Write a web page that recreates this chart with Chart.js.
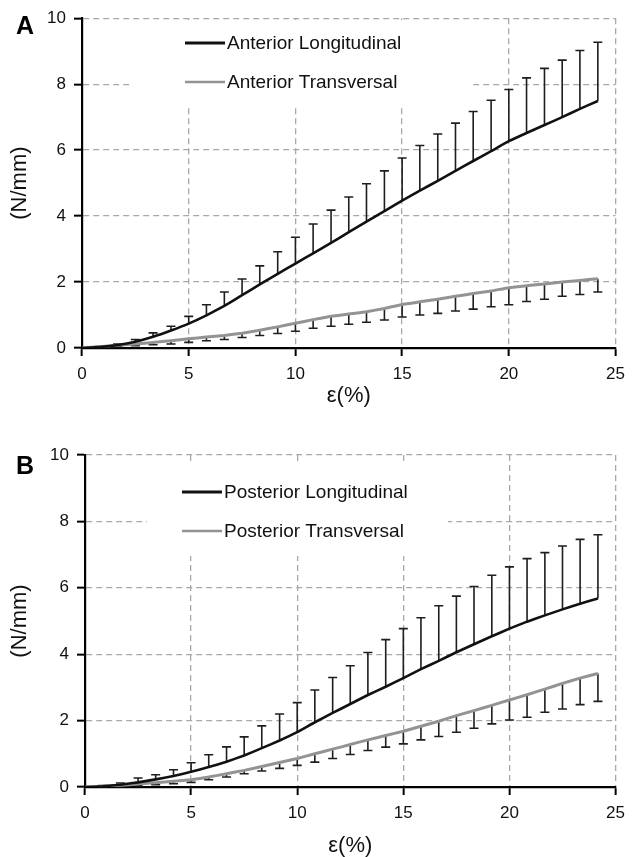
<!DOCTYPE html>
<html lang="en">
<head>
<meta charset="utf-8">
<title>Stiffness vs strain</title>
<style>
  html, body { margin: 0; padding: 0; background: #fff; }
  .panel { position: absolute; left: 0; }
  #panelA { top: 0; }
  #panelB { top: 428px; }
</style>
</head>
<body>
<div class="panel" id="panelA"><canvas id="chartA" width="633" height="428"></canvas></div>
<div class="panel" id="panelB"><canvas id="chartB" width="633" height="429"></canvas></div>

<script src="https://cdn.jsdelivr.net/npm/chart.js@4.4.0/dist/chart.umd.min.js"></script>
<script>
// strain steps (%)
var strain = [0, 0.83, 1.67, 2.5, 3.33, 4.17, 5, 5.83, 6.67, 7.5, 8.33, 9.17, 10, 10.83, 11.67,
              12.5, 13.33, 14.17, 15, 15.83, 16.67, 17.5, 18.33, 19.17, 20, 20.83, 21.67, 22.5, 23.33, 24.17];

var strainTicks = [0, 5, 10, 15, 20, 25];
var forceTicks = [0, 2, 4, 6, 8, 10];

// A - anterior (N/mm)
var antLong      = [0, 0.03, 0.09, 0.19, 0.34, 0.53, 0.74, 0.99, 1.28, 1.6, 1.93, 2.25, 2.56, 2.87, 3.19,
                    3.51, 3.83, 4.15, 4.47, 4.77, 5.07, 5.37, 5.67, 5.97, 6.27, 6.52, 6.76, 7.0, 7.25, 7.49];
var antLongUpper = [0, 0.05, 0.12, 0.26, 0.46, 0.66, 0.96, 1.31, 1.7, 2.09, 2.49, 2.92, 3.36, 3.76, 4.18,
                    4.58, 4.98, 5.37, 5.76, 6.14, 6.49, 6.82, 7.17, 7.51, 7.84, 8.19, 8.48, 8.73, 9.02, 9.27];
var antTrans      = [0, 0.04, 0.08, 0.12, 0.17, 0.22, 0.28, 0.33, 0.38, 0.45, 0.54, 0.64, 0.75, 0.86, 0.96,
                     1.03, 1.1, 1.2, 1.32, 1.4, 1.48, 1.57, 1.65, 1.73, 1.83, 1.89, 1.94, 2.0, 2.05, 2.1];
var antTransLower = [0, 0.02, 0.04, 0.07, 0.1, 0.12, 0.17, 0.22, 0.26, 0.32, 0.38, 0.44, 0.51, 0.6, 0.66,
                     0.72, 0.78, 0.85, 0.94, 1.0, 1.05, 1.12, 1.18, 1.25, 1.31, 1.41, 1.48, 1.57, 1.62, 1.7];

// B - posterior (N/mm)
var postLong      = [0, 0.02, 0.07, 0.14, 0.23, 0.33, 0.46, 0.6, 0.76, 0.95, 1.17, 1.4, 1.65, 1.95, 2.23,
                     2.5, 2.77, 3.02, 3.28, 3.55, 3.8, 4.06, 4.3, 4.54, 4.77, 4.98, 5.17, 5.35, 5.52, 5.68];
var postLongUpper = [0, 0.04, 0.12, 0.27, 0.37, 0.52, 0.73, 0.97, 1.21, 1.51, 1.84, 2.2, 2.54, 2.92, 3.3,
                     3.65, 4.05, 4.44, 4.77, 5.1, 5.46, 5.75, 6.04, 6.38, 6.63, 6.88, 7.06, 7.26, 7.46, 7.6];
var postTrans      = [0, 0.02, 0.05, 0.09, 0.13, 0.17, 0.22, 0.3, 0.4, 0.5, 0.62, 0.74, 0.86, 1.0, 1.14,
                      1.28, 1.42, 1.55, 1.68, 1.83, 1.98, 2.15, 2.3, 2.46, 2.62, 2.78, 2.95, 3.12, 3.28, 3.42];
var postTransLower = [0, 0.01, 0.02, 0.04, 0.07, 0.1, 0.14, 0.22, 0.3, 0.4, 0.48, 0.56, 0.65, 0.75, 0.86,
                      0.98, 1.1, 1.2, 1.3, 1.42, 1.52, 1.65, 1.77, 1.9, 2.02, 2.1, 2.25, 2.35, 2.48, 2.58];

var FONT = '"Liberation Sans", Arial, sans-serif';
Chart.defaults.font.family = FONT;
Chart.defaults.color = '#111';

function points(ys) {
  return strain.map(function (x, i) { return { x: x, y: ys[i] }; });
}

// white box + legend rows drawn inside the plot
var insideLegend = {
  id: 'insideLegend',
  beforeDatasetsDraw: function (chart, args, opts) {
    var ctx = chart.ctx, b = opts.box;
    ctx.save();
    ctx.fillStyle = '#fff';
    ctx.fillRect(b[0], b[1], b[2] - b[0], b[3] - b[1]);
    ctx.font = '19px ' + FONT;
    ctx.textBaseline = 'middle';
    chart.data.datasets.forEach(function (ds, i) {
      var y = opts.rowY[i];
      ctx.strokeStyle = ds.borderColor;
      ctx.lineWidth = i === 0 ? 3 : 2.5;
      ctx.beginPath();
      ctx.moveTo(opts.lineX[0], y);
      ctx.lineTo(opts.lineX[1], y);
      ctx.stroke();
      ctx.fillStyle = '#111';
      ctx.fillText(ds.label, opts.lineX[1] + 2, y + 1);
    });
    ctx.restore();
  }
};

// one-sided error bars with caps
var errorBars = {
  id: 'errorBars',
  beforeDatasetsDraw: function (chart) {
    var ctx = chart.ctx, xs = chart.scales.x, ys = chart.scales.y;
    chart.data.datasets.forEach(function (ds) {
      if (!ds.errorEnd) return;
      ctx.save();
      ctx.strokeStyle = '#1e1e1e';
      ctx.lineWidth = 1.6;
      ds.data.forEach(function (p, i) {
        if (i === 0) return;
        var px = xs.getPixelForValue(p.x);
        var y0 = ys.getPixelForValue(p.y);
        var y1 = ys.getPixelForValue(ds.errorEnd[i]);
        ctx.beginPath();
        ctx.moveTo(px, y0);
        ctx.lineTo(px, y1);
        ctx.moveTo(px - 4.5, y1);
        ctx.lineTo(px + 4.5, y1);
        ctx.stroke();
      });
      ctx.restore();
    });
  }
};

var panelLetter = {
  id: 'panelLetter',
  afterDraw: function (chart, args, opts) {
    var ctx = chart.ctx;
    ctx.save();
    ctx.font = 'bold 25px ' + FONT;
    ctx.fillStyle = '#000';
    ctx.textAlign = 'center';
    ctx.textBaseline = 'middle';
    ctx.fillText(opts.text, opts.x, opts.y);
    ctx.restore();
  }
};

function makePanel(id, cfg) {
  new Chart(document.getElementById(id).getContext('2d'), {
    type: 'line',
    data: {
      datasets: [
        {
          label: cfg.names[0],
          data: points(cfg.long),
          errorEnd: cfg.longErr,
          borderColor: '#111',
          borderWidth: 2.6,
          pointRadius: 0,
          fill: false,
          tension: 0.1
        },
        {
          label: cfg.names[1],
          data: points(cfg.trans),
          errorEnd: cfg.transErr,
          borderColor: '#939393',
          borderWidth: 3,
          pointRadius: 0,
          fill: false,
          tension: 0.1
        }
      ]
    },
    options: {
      responsive: false,
      animation: false,
      devicePixelRatio: 1,
      layout: { padding: { top: cfg.top, right: cfg.right, bottom: 0, left: 0 } },
      plugins: {
        legend: { display: false },
        tooltip: { enabled: false },
        insideLegend: { box: cfg.box, rowY: cfg.rowY, lineX: cfg.lineX },
        panelLetter: { text: cfg.letter, x: 25, y: cfg.letterY }
      },
      scales: {
        x: {
          type: 'linear',
          min: 0,
          max: 25,
          afterBuildTicks: function (s) { s.ticks = strainTicks.map(function (v) { return { value: v }; }); },
          afterFit: function (s) { s.height = cfg.xHeight; },
          ticks: { font: { size: 17 }, padding: 8, color: '#111' },
          grid: { color: '#a8a8a8', lineWidth: 1.3, tickColor: '#000', tickLength: 8, tickWidth: 2 },
          border: { color: '#000', width: 2.2, dash: [6, 4] },
          title: { display: true, text: 'ε(%)', font: { size: 22, lineHeight: 1 }, color: '#111',
                   padding: { top: 0, bottom: cfg.xTitlePad } }
        },
        y: {
          min: 0,
          max: 10,
          afterBuildTicks: function (s) { s.ticks = forceTicks.map(function (v) { return { value: v }; }); },
          afterFit: function (s) { s.width = cfg.yWidth; },
          ticks: { font: { size: 17 }, padding: 8, color: '#111' },
          grid: { color: '#a8a8a8', lineWidth: 1.3, tickColor: '#000', tickLength: 8, tickWidth: 2 },
          border: { color: '#000', width: 2.2, dash: [6, 4] },
          title: { display: true, text: '(N/mm)', font: { size: 22, lineHeight: 1 }, color: '#111',
                   padding: { top: 9, bottom: 0 } }
        }
      }
    },
    plugins: [insideLegend, errorBars, panelLetter]
  });
}

makePanel('chartA', {
  letter: 'A', letterY: 27,
  names: ['Anterior Longitudinal', 'Anterior Transversal'],
  long: antLong, longErr: antLongUpper,
  trans: antTrans, transErr: antTransLower,
  top: 17, right: 11, yWidth: 82, xHeight: 80, xTitlePad: 21,
  box: [130, 20, 470, 108], rowY: [43, 82], lineX: [185, 225]
});

makePanel('chartB', {
  letter: 'B', letterY: 39,
  names: ['Posterior Longitudinal', 'Posterior Transversal'],
  long: postLong, longErr: postLongUpper,
  trans: postTrans, transErr: postTransLower,
  top: 27, right: 10, yWidth: 85, xHeight: 70, xTitlePad: 0,
  box: [147, 34, 448, 128], rowY: [64, 103], lineX: [182, 222]
});
</script>
</body>
</html>
